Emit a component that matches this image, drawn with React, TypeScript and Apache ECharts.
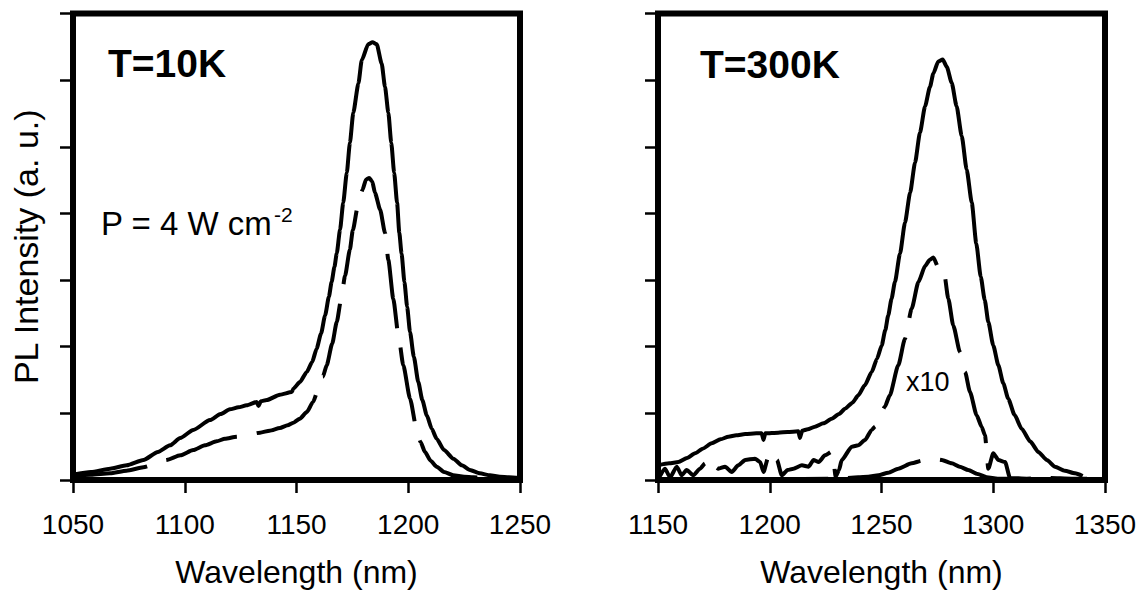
import React, { useEffect, useRef } from "react";
import * as echarts from "echarts";

const FONT = "'Liberation Sans', Arial, Helvetica, sans-serif";

// Left panel (T = 10K): wavelength (nm), PL intensity (a.u.)
const lowTempSolid: [number, number][] = [
  [1050, 0.08], [1058, 0.12], [1066.6, 0.17], [1074, 0.22], [1081.5, 0.3], [1088, 0.42],
  [1093.4, 0.52], [1098, 0.63], [1103.8, 0.75], [1111.3, 0.9], [1116, 0.99], [1120.2, 1.06],
  [1124, 1.09], [1127.7, 1.12], [1132.2, 1.17], [1133, 1.11], [1134, 1.18], [1136.7, 1.2],
  [1142.6, 1.28], [1147.9, 1.32], [1148.6, 1.37], [1151.5, 1.47], [1154.6, 1.62], [1157, 1.77],
  [1159, 1.97], [1161, 2.2], [1162.8, 2.47], [1164.5, 2.75], [1165.7, 2.97], [1167, 3.2],
  [1168, 3.4], [1169.5, 3.76], [1170.9, 4.16], [1172.5, 4.61], [1173.9, 5.06], [1175.4, 5.51],
  [1177.7, 5.95], [1179.2, 6.3], [1182.1, 6.54], [1184, 6.57], [1185.9, 6.54], [1188.1, 6.25],
  [1189.6, 5.9], [1191.1, 5.51], [1192.4, 5.06], [1193.7, 4.61], [1195, 4.16], [1196, 3.71],
  [1197, 3.4], [1198.3, 2.97], [1199.5, 2.6], [1200.8, 2.22], [1202.5, 1.85], [1204.5, 1.47],
  [1206.3, 1.2], [1208.3, 0.97], [1210.5, 0.77], [1212.7, 0.62], [1216, 0.45], [1220.2, 0.32],
  [1224, 0.22], [1227.6, 0.15], [1232, 0.1], [1236.6, 0.07], [1241, 0.05], [1245, 0.04], [1250, 0.03],
];

const lowTempDashed: [number, number][] = [
  [1050, 0.06], [1058, 0.08], [1066.6, 0.1], [1074, 0.14], [1081.5, 0.19], [1087, 0.24],
  [1091.9, 0.3], [1098, 0.37], [1103.8, 0.45], [1109, 0.52], [1114.3, 0.58], [1118, 0.62],
  [1123.2, 0.65], [1128, 0.68], [1133.7, 0.71], [1138, 0.74], [1142.6, 0.78], [1146, 0.82],
  [1148.6, 0.86], [1151.5, 0.92], [1154.6, 1.02], [1157.4, 1.17], [1159.8, 1.37], [1161.8, 1.55],
  [1163.5, 1.72], [1166, 2.05], [1168, 2.37], [1170, 2.72], [1171.7, 3.06], [1173.9, 3.46],
  [1175.2, 3.75], [1177.7, 4.16], [1179.5, 4.35], [1181.1, 4.51], [1182.5, 4.53], [1183.9, 4.48],
  [1185.1, 4.31], [1187.4, 4.06], [1189.6, 3.71], [1191.1, 3.3], [1193.3, 2.72], [1195.6, 2.17],
  [1197.8, 1.72], [1200.8, 1.22], [1203.8, 0.75], [1205.5, 0.57], [1207.5, 0.42], [1210, 0.29],
  [1212.7, 0.2], [1216, 0.12], [1220.2, 0.07], [1225, 0.05], [1229.1, 0.04], [1240, 0.02], [1250, 0.02],
];

// Right panel (T = 300K)
const roomTempSolid: [number, number][] = [
  [1150, 0.22], [1155, 0.25], [1159.1, 0.27], [1163, 0.33], [1166.6, 0.4], [1170, 0.47],
  [1174, 0.55], [1178, 0.61], [1181.5, 0.65], [1185, 0.67], [1189, 0.69], [1194, 0.7],
  [1196.4, 0.7], [1197.2, 0.6], [1198, 0.7], [1203.8, 0.71], [1208, 0.72], [1212.8, 0.73],
  [1213.5, 0.63], [1214.5, 0.74], [1217, 0.76], [1220.2, 0.8], [1224, 0.85], [1227.7, 0.92],
  [1231, 0.99], [1233.7, 1.07], [1237, 1.16], [1239.6, 1.27], [1242.5, 1.42], [1245.6, 1.62],
  [1248, 1.82], [1250.1, 2.02], [1251.7, 2.25], [1253, 2.47], [1254.5, 2.72], [1256, 2.97],
  [1258.3, 3.4], [1260.5, 3.86], [1262.8, 4.31], [1265, 4.76], [1267.2, 5.21], [1269.5, 5.61],
  [1271.7, 5.9], [1273.2, 6.1], [1275.4, 6.28], [1277.4, 6.31], [1279.2, 6.2], [1281.4, 5.96],
  [1283.6, 5.61], [1285.9, 5.16], [1288.1, 4.66], [1290.4, 4.16], [1292.4, 3.55], [1294.4, 3.05],
  [1296.2, 2.7], [1297.8, 2.37], [1300, 2.02], [1302.3, 1.72], [1304.5, 1.45], [1306.7, 1.22],
  [1309.5, 0.98], [1312.7, 0.77], [1316.5, 0.58], [1320.2, 0.42], [1324, 0.3], [1327.6, 0.2],
  [1332, 0.14], [1336.6, 0.1], [1340, 0.06],
];

const roomTempX10: [number, number][] = [
  [1150.7, 0.05], [1153.1, 0.17], [1155.4, 0.04], [1158.4, 0.2], [1160.6, 0.07], [1162.8, 0.15],
  [1165.8, 0.07], [1168.8, 0.17], [1171.1, 0.25], [1173.3, 0.12], [1175.5, 0.2], [1177, 0.17],
  [1180, 0.2], [1183, 0.12], [1185.9, 0.22], [1189, 0.3], [1193.4, 0.32], [1195.7, 0.27],
  [1197.2, 0.12], [1199.4, 0.35], [1201.7, 0.22], [1203.2, 0.3], [1205.4, 0.07], [1208, 0.15],
  [1210.6, 0.17], [1214.4, 0.22], [1217.4, 0.2], [1219.6, 0.3], [1221.9, 0.27], [1224.7, 0.37],
  [1228, 0.43], [1229.5, 0.05], [1231, 0.15], [1232.2, 0.3], [1236.7, 0.5], [1239.6, 0.52],
  [1242.6, 0.6], [1245.6, 0.75], [1247.1, 0.8], [1249.3, 0.97], [1251.5, 1.1], [1253.7, 1.27],
  [1257.5, 1.72], [1260.5, 2.12], [1263.5, 2.57], [1266.5, 2.97], [1269.5, 3.21], [1271.5, 3.3],
  [1273.2, 3.34], [1275.4, 3.19], [1277.7, 3.19], [1279.9, 2.72], [1282.1, 2.32], [1285.1, 1.92],
  [1287.4, 1.62], [1289.6, 1.32], [1292.6, 0.97], [1294.8, 0.8], [1296.3, 0.67], [1297.8, 0.17],
  [1300, 0.4], [1302.3, 0.3], [1305.3, 0.27], [1307.5, 0.03], [1315, 0.02], [1325, 0.03],
  [1335, 0.02], [1342, 0.02],
];

const roomTempX1: [number, number][] = [
  [1150, 0.01], [1200, 0.01], [1230, 0.02], [1239.6, 0.04], [1244, 0.05], [1248.6, 0.07],
  [1253, 0.11], [1257.5, 0.17], [1263.5, 0.25], [1268, 0.29], [1272.5, 0.32], [1277, 0.3],
  [1281.4, 0.25], [1285, 0.2], [1288.8, 0.15], [1293, 0.09], [1297.1, 0.04], [1302, 0.02],
  [1320, 0.01], [1340, 0.01],
];

const leftRange = [1050, 1250];
const rightRange = [1150, 1350];
const yRange = [0, 7];

const xAxisTitle = "Wavelength (nm)";
const yAxisTitle = "PL Intensity (a. u.)";

export default function App() {
  const ref = useRef<HTMLDivElement>(null);
  useEffect(() => {
    if (!ref.current) return;
    const chart = echarts.init(ref.current, null, { renderer: "svg" });

    const tick = { show: true, inside: false, length: 13, lineStyle: { color: "#000", width: 2.5 } };
    const xAxis = (gridIndex: number, range: number[]) => ({
      type: "value",
      gridIndex,
      min: range[0],
      max: range[1],
      interval: 50,
      name: xAxisTitle,
      nameLocation: "middle",
      nameGap: 76,
      nameTextStyle: { fontSize: 32, color: "#000", fontFamily: FONT },
      axisLine: { show: false },
      axisTick: tick,
      axisLabel: {
        fontSize: 28,
        color: "#000",
        margin: 30,
        fontFamily: FONT,
        formatter: (v: number) => String(v),
      },
      splitLine: { show: false },
    });
    const yAxis = (gridIndex: number, withName: boolean) => ({
      type: "value",
      gridIndex,
      min: yRange[0],
      max: yRange[1],
      interval: 1,
      name: withName ? yAxisTitle : "",
      nameLocation: "middle",
      nameGap: 30,
      nameTextStyle: { fontSize: 34, color: "#000", fontFamily: FONT },
      axisLine: { show: false },
      axisTick: tick,
      axisLabel: { show: false },
      splitLine: { show: false },
    });
    const line = (data: [number, number][], idx: number, dashed: boolean) => ({
      type: "line",
      xAxisIndex: idx,
      yAxisIndex: idx,
      data,
      showSymbol: false,
      symbol: "none",
      smooth: 0.2,
      smoothMonotone: "x",
      silent: true,
      lineStyle: { color: "#000", width: 4, type: dashed ? [75, 20] : "solid" },
      z: 3,
    });

    chart.setOption({
      animation: false,
      backgroundColor: "#fff",
      grid: [
        { left: 73, top: 13.5, width: 447, height: 468, show: true, borderColor: "#000", borderWidth: 6, backgroundColor: "transparent", containLabel: false },
        { left: 658, top: 13.5, width: 447, height: 468, show: true, borderColor: "#000", borderWidth: 6, backgroundColor: "transparent", containLabel: false },
      ],
      xAxis: [xAxis(0, leftRange), xAxis(1, rightRange)],
      yAxis: [yAxis(0, true), yAxis(1, false)],
      series: [
        line(lowTempSolid, 0, false),
        line(lowTempDashed, 0, true),
        line(roomTempSolid, 1, false),
        line(roomTempX10, 1, true),
        line(roomTempX1, 1, true),
      ],
      graphic: [
        { type: "text", left: 108, top: 44, style: { text: "T=10K", font: `bold 39px ${FONT}`, fill: "#000" } },
        { type: "text", left: 700, top: 45, style: { text: "T=300K", font: `bold 39px ${FONT}`, fill: "#000" } },
        { type: "text", left: 101, top: 207, style: { text: "P = 4 W cm", font: `33px ${FONT}`, fill: "#000" } },
        { type: "text", left: 274, top: 204, style: { text: "-2", font: `21px ${FONT}`, fill: "#000" } },
        { type: "text", left: 906, top: 368, style: { text: "x10", font: `27px ${FONT}`, fill: "#000" } },
      ],
    });
    return () => chart.dispose();
  }, []);
  return (
    <div
      ref={ref}
      style={{ position: "absolute", left: 0, top: 0, width: 1141, height: 593, background: "#fff" }}
    />
  );
}
